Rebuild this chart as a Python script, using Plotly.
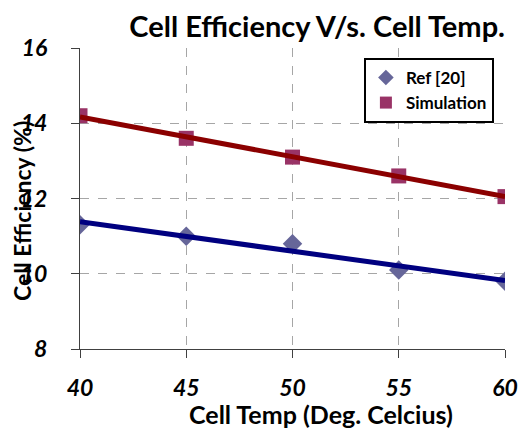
import numpy as np
import plotly.graph_objects as go

temps = [40, 45, 50, 55, 60]
ref20 = [11.3, 11.0, 10.8, 10.1, 9.8]
simulation = [14.2, 13.6, 13.1, 12.6, 12.05]
x_ticks = [40, 45, 50, 55, 60]
y_ticks = [8, 10, 12, 14, 16]

FONT = "Lato"
W, H = 521, 432
L, R, T, B = 80, 16, 48, 83
PW, PH = W - L - R, H - T - B

fig = go.Figure()

fig.add_trace(go.Scatter(x=temps, y=ref20, mode="markers", name="<b>Ref [20]</b>",
                         marker=dict(symbol="diamond", size=15, color="#666699")))
fig.add_trace(go.Scatter(x=temps, y=simulation, mode="markers", name="<b>Simulation</b>",
                         marker=dict(symbol="square", size=15, color="#993366")))

# linear trendlines fitted to the data
for ys, col in [(ref20, "#000080"), (simulation, "#8B0000")]:
    k, b = np.polyfit(temps, ys, 1)
    xs = [temps[0], temps[-1]]
    fig.add_trace(go.Scatter(x=xs, y=[k * v + b for v in xs], mode="lines",
                             line=dict(color=col, width=5), showlegend=False,
                             hoverinfo="skip"))

def px_x(p):
    return (p - L) / PW

def px_y(p):
    return (H - B - p) / PH

fig.update_layout(
    width=W, height=H,
    margin=dict(l=L, r=R, t=T, b=B, autoexpand=False),
    paper_bgcolor="white", plot_bgcolor="white",
    font=dict(family=FONT, color="black"),
    title=dict(text="<b>Cell Efficiency V/s. Cell Temp.</b>",
               font=dict(size=29, family=FONT, color="black"),
               x=505 / W, xanchor="right", xref="container",
               y=1 - 27 / H, yanchor="middle", yref="container",
               automargin=False),
    legend=dict(x=0.668, y=0.967, xanchor="left", yanchor="top",
                bordercolor="black", borderwidth=2, bgcolor="white",
                font=dict(size=17, family=FONT, color="black"),
                itemsizing="constant", tracegroupgap=2),
    showlegend=True,
    annotations=[
        dict(text="<b>Cell Temp (Deg. Celcius)</b>", xref="paper", yref="paper",
             x=px_x(321), y=px_y(414), xanchor="center", yanchor="middle",
             showarrow=False, font=dict(size=25, family=FONT, color="black")),
        dict(text="<b>Cell Efficiency (%)</b>", xref="paper", yref="paper",
             x=px_x(22), y=px_y(211), xanchor="center", yanchor="middle",
             textangle=-90, showarrow=False,
             font=dict(size=23, family=FONT, color="black")),
    ],
)

fig.update_xaxes(
    range=[40, 60], tickvals=x_ticks,
    ticktext=[f"<b><i>{v}</i></b>" for v in x_ticks],
    tickfont=dict(size=23, family=FONT, color="black"),
    showline=True, linecolor="#404040", linewidth=1,
    ticks="outside", ticklen=8, tickcolor="#404040",
    ticklabelstandoff=10, automargin=False,
    showgrid=True, gridcolor="#a6a6a6", griddash="dash", gridwidth=1,
    zeroline=False,
)
fig.update_yaxes(
    range=[8, 16], tickvals=y_ticks,
    ticktext=[f"<b><i>{v}</i></b>" for v in y_ticks],
    tickfont=dict(size=23, family=FONT, color="black"),
    showline=True, linecolor="#404040", linewidth=1,
    ticks="outside", ticklen=8, tickcolor="#404040",
    ticklabelstandoff=19, automargin=False,
    showgrid=True, gridcolor="#a6a6a6", griddash="dash", gridwidth=1,
    zeroline=False,
)

fig.write_html("out.html", config={"displayModeBar": False},
               post_script="document.body.style.margin='0px';")
